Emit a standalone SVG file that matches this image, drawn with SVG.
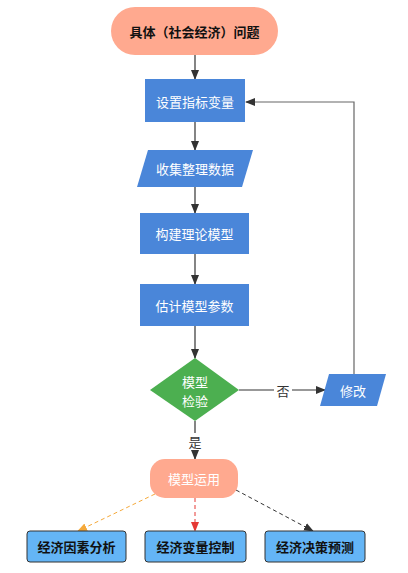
<svg xmlns="http://www.w3.org/2000/svg" width="408" height="573" viewBox="0 0 408 573">
<defs>
<style>
text{font-family:"Noto Sans CJK SC","Liberation Sans",sans-serif;font-size:13px;text-anchor:middle;dominant-baseline:central}
.w{fill:#fff}
.b{fill:#111;font-weight:bold}
.blue{fill:#4a86d9}
.line{stroke:#333;stroke-width:1.2;fill:none}
.bot{fill:#64b5f6;stroke:#333;stroke-width:1}
</style>
<marker id="ah" markerWidth="10" markerHeight="10" refX="9" refY="5" orient="auto" markerUnits="userSpaceOnUse"><path d="M0,1 L10,5 L0,9 z" fill="#333"/></marker>
<marker id="ahg" markerWidth="10" markerHeight="10" refX="9" refY="5" orient="auto" markerUnits="userSpaceOnUse"><path d="M0,1 L10,5 L0,9 z" fill="#333"/></marker>
<marker id="aho" markerWidth="10" markerHeight="10" refX="9" refY="5" orient="auto" markerUnits="userSpaceOnUse"><path d="M0,1 L10,5 L0,9 z" fill="#f5a93a"/></marker>
<marker id="ahr" markerWidth="10" markerHeight="10" refX="9" refY="5" orient="auto" markerUnits="userSpaceOnUse"><path d="M0,1 L10,5 L0,9 z" fill="#e53935"/></marker>
</defs>
<g id="connectors">
<line class="line" x1="195" y1="55" x2="195" y2="79" marker-end="url(#ah)"/>
<line class="line" x1="195" y1="122" x2="195" y2="150" marker-end="url(#ah)"/>
<line class="line" x1="195" y1="187" x2="195" y2="213" marker-end="url(#ah)"/>
<line class="line" x1="195" y1="254" x2="195" y2="284" marker-end="url(#ah)"/>
<line class="line" x1="195" y1="326" x2="195" y2="358" marker-end="url(#ah)"/>
<line class="line" x1="239" y1="390" x2="325" y2="390" marker-end="url(#ah)"/>
<path d="M354,374 V102 H246" fill="none" stroke="#666" stroke-width="1.2" marker-end="url(#ahg)"/>
<line class="line" x1="195" y1="421" x2="195" y2="459" marker-end="url(#ah)"/>
<rect x="274" y="382" width="18" height="16" fill="#fff"/>
<text x="283" y="390" style="fill:#333">否</text>
<rect x="187" y="433" width="16" height="17" fill="#fff"/>
<text x="195" y="441" style="fill:#333">是</text>
<line x1="155" y1="494" x2="78" y2="531" stroke="#f5a93a" stroke-width="1" stroke-dasharray="4,3" marker-end="url(#aho)"/>
<line x1="195" y1="498" x2="195" y2="531" stroke="#e53935" stroke-width="1" stroke-dasharray="4,3" marker-end="url(#ahr)"/>
<line x1="236" y1="490" x2="313" y2="531" stroke="#333" stroke-width="1" stroke-dasharray="4,3" marker-end="url(#ah)"/>
</g>
<g id="start">
<rect x="111" y="7" width="167" height="48" rx="24" fill="#ffa98f"/>
<text class="b" x="194.5" y="31">具体（社会经济）问题</text>
</g>
<g id="n1">
<rect class="blue" x="145" y="79" width="100" height="43"/>
<text class="w" x="195" y="101">设置指标变量</text>
</g>
<g id="n2">
<polygon class="blue" points="148,150 253,150 242,187 137,187"/>
<text class="w" x="195" y="168.5">收集整理数据</text>
</g>
<g id="n3">
<rect class="blue" x="140" y="213" width="109" height="41"/>
<text class="w" x="194.5" y="233.5">构建理论模型</text>
</g>
<g id="n4">
<rect class="blue" x="140" y="284" width="109" height="42"/>
<text class="w" x="194.5" y="305">估计模型参数</text>
</g>
<g id="check">
<polygon points="195,358 239,390 195,421 150,390" fill="#4caf50"/>
<text class="w" x="195" y="381">模型</text>
<text class="w" x="195" y="400">检验</text>
</g>
<g id="modify">
<polygon class="blue" points="329,374 386,374 377,406 320,406"/>
<text class="w" x="353" y="390">修改</text>
</g>
<g id="apply">
<rect x="150" y="459" width="88" height="39" rx="15" fill="#ffa98f"/>
<text class="w" x="194" y="478.5">模型运用</text>
</g>
<g id="o1">
<rect class="bot" x="27" y="531" width="99" height="31" rx="3"/>
<text class="b" x="76.5" y="546.5">经济因素分析</text>
</g>
<g id="o2">
<rect class="bot" x="145" y="531" width="101" height="31" rx="3"/>
<text class="b" x="195.5" y="546.5">经济变量控制</text>
</g>
<g id="o3">
<rect class="bot" x="265" y="531" width="100" height="31" rx="3"/>
<text class="b" x="315" y="546.5">经济决策预测</text>
</g>
</svg>
